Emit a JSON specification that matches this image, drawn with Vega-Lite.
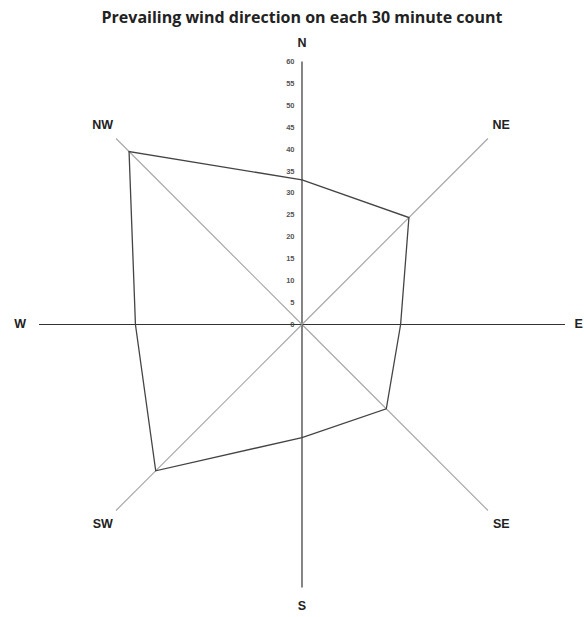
{
  "$schema": "https://vega.github.io/schema/vega-lite/v6.json",
  "width": 584,
  "height": 617,
  "autosize": {"type": "none"},
  "padding": 0,
  "background": "white",
  "title": {
    "text": "Prevailing wind direction on each 30 minute count",
    "font": "Open Sans",
    "fontSize": 16,
    "fontWeight": "bold",
    "color": "#222222",
    "anchor": "middle",
    "frame": "group",
    "offset": 0,
    "dx": 10,
    "dy": 26
  },
  "config": {"view": {"stroke": null}},
  "data": {
    "values": [
      {"direction": "N", "angle": 0, "count": 33, "main": "yes"},
      {"direction": "NE", "angle": 45, "count": 34.5, "main": "no"},
      {"direction": "E", "angle": 90, "count": 22.5, "main": "yes"},
      {"direction": "SE", "angle": 135, "count": 27.2, "main": "no"},
      {"direction": "S", "angle": 180, "count": 25.8, "main": "yes"},
      {"direction": "SW", "angle": 225, "count": 47.2, "main": "no"},
      {"direction": "W", "angle": 270, "count": 38, "main": "yes"},
      {"direction": "NW", "angle": 315, "count": 55.8, "main": "no"}
    ]
  },
  "transform": [
    {"calculate": "datum.count * sin(datum.angle * PI / 180)", "as": "px"},
    {"calculate": "datum.count * cos(datum.angle * PI / 180)", "as": "py"},
    {"calculate": "60 * sin(datum.angle * PI / 180)", "as": "sx"},
    {"calculate": "60 * cos(datum.angle * PI / 180)", "as": "sy"},
    {"calculate": "64.3 * sin(datum.angle * PI / 180)", "as": "lx"},
    {"calculate": "64.3 * cos(datum.angle * PI / 180)", "as": "ly"},
    {"calculate": "0", "as": "zero"}
  ],
  "layer": [
    {
      "mark": {"type": "rule", "strokeWidth": 1.2},
      "encoding": {
        "x": {"field": "zero", "type": "quantitative", "scale": {"domain": [-68.9, 64.34], "nice": false, "zero": false}, "axis": null},
        "y": {
          "field": "zero",
          "type": "quantitative",
          "scale": {"domain": [-66.73, 74.03], "nice": false, "zero": false},
          "axis": {
            "values": [0, 5, 10, 15, 20, 25, 30, 35, 40, 45, 50, 55, 60],
            "offset": -302,
            "domain": false,
            "ticks": false,
            "grid": false,
            "title": null,
            "labelPadding": 8,
            "labelFont": "Liberation Sans",
            "labelFontSize": 7.5,
            "labelFontWeight": "bold",
            "labelColor": "#555555"
          }
        },
        "x2": {"field": "sx"},
        "y2": {"field": "sy"},
        "color": {"field": "main", "type": "nominal", "scale": {"domain": ["yes", "no"], "range": ["#333333", "#a8a8a8"]}, "legend": null}
      }
    },
    {
      "mark": {"type": "line", "interpolate": "linear-closed", "stroke": "#444444", "strokeWidth": 1.3},
      "encoding": {
        "x": {"field": "px", "type": "quantitative"},
        "y": {"field": "py", "type": "quantitative"},
        "order": {"field": "angle", "type": "quantitative"}
      }
    },
    {
      "transform": [{"filter": "datum.direction != 'E'"}],
      "mark": {"type": "text", "font": "Liberation Sans", "fontSize": 12.5, "fontWeight": "bold", "color": "#222222", "align": "center", "baseline": "middle"},
      "encoding": {
        "x": {"field": "lx", "type": "quantitative"},
        "y": {"field": "ly", "type": "quantitative"},
        "text": {"field": "direction"}
      }
    },
    {
      "transform": [{"filter": "datum.direction == 'E'"}],
      "mark": {"type": "text", "font": "Liberation Sans", "fontSize": 12.5, "fontWeight": "bold", "color": "#222222", "align": "right", "baseline": "middle", "dx": -1},
      "encoding": {
        "x": {"field": "lx", "type": "quantitative"},
        "y": {"field": "ly", "type": "quantitative"},
        "text": {"field": "direction"}
      }
    }
  ]
}
